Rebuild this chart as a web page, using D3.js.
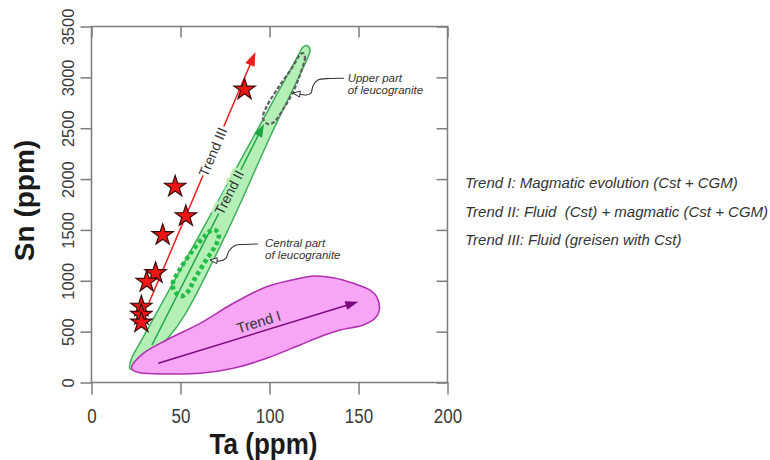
<!DOCTYPE html>
<html>
<head>
<meta charset="utf-8">
<script src="https://cdn.jsdelivr.net/npm/d3@7"></script>
<style>
  body { margin: 0; background: #fff; }
  svg { display: block; font-family: "Liberation Sans", Arial, sans-serif; }
</style>
</head>
<body>
<div id="chart"></div>
<script>
// axis ticks
const xTicks = [0, 50, 100, 150, 200];
const yTicks = [0, 500, 1000, 1500, 2000, 2500, 3000, 3500];

// greisen samples (stars)
const starTa = [86, 47, 53, 40, 36, 31, 28, 28, 28];
const starSn = [2880, 1925, 1635, 1450, 1075, 990, 745, 665, 590];

// outlines, [Ta, Sn]
const trendIIField = [
  [21.6, 133], [22.6, 241], [27.2, 388], [46.1, 988], [82.9, 2157], [108.5, 2973],
  [116.2, 3219], [118.8, 3298], [121.1, 3313], [122.8, 3269], [121.6, 3200],
  [100.3, 2414], [77.2, 1519], [53.0, 683], [43.0, 437], [32.9, 261], [25.6, 143]
];
const trendIField = [
  [22.6, 155], [29.1, 287], [42.2, 418], [61.0, 582], [79.7, 779], [98.4, 942],
  [117.1, 1024], [124.6, 1047], [135.8, 1030], [147.1, 975], [156.5, 909], [160.2, 844],
  [161.7, 713], [159.3, 631], [152.7, 565], [139.6, 516], [128.4, 450], [117.1, 369],
  [98.4, 238], [79.7, 140], [61.0, 90], [42.2, 84], [27.2, 96], [23.1, 123]
];
const centralPart = [
  [46.9, 890], [45.6, 968], [49.4, 1106], [56.2, 1283], [63.6, 1440], [68.3, 1502],
  [71.4, 1470], [70.4, 1371], [64.4, 1204], [58.2, 1027], [54.0, 890], [50.3, 848]
];
const upperPart = [
  [118.8, 3239], [119.9, 3200], [117.1, 3023], [113.2, 2856], [108.1, 2699], [102.5, 2561],
  [99.1, 2541], [96.3, 2600], [98.0, 2699], [104.8, 2896], [112.6, 3092], [117.1, 3220]
];

// trend arrows, [start, tip]
const trendIArrow = [[37.5, 189], [149.9, 794]];
const trendIIArrow = [[34.0, 369], [96.9, 2541]];
const trendIIIArrow = [[31.5, 752], [92.1, 3249]];

// label names and their place along each arrow
const trendNames = ["Trend I", "Trend II", "Trend III"];
const trendLabelT = [0.517, 0.69, 0.606];

// annotation leaders (last point = arrow tip)
const upperLeader = [[141.9, 2991], [134.0, 2989], [127.2, 2974], [124.4, 2915], [123.3, 2846], [120.5, 2827], [113.2, 2846]];
const centralLeader = [[93.5, 1362], [86.2, 1357], [80.6, 1347], [77.2, 1293], [75.6, 1224], [72.2, 1195], [66.6, 1204]];
const upperNote = ["Upper part", "of leucogranite"];
const upperNoteAt = [143.9, 2954];
const centralNote = ["Central part", "of leucogranite"];
const centralNoteAt = [97.5, 1332];

const legendLines = [
  "Trend I: Magmatic evolution (Cst + CGM)",
  "Trend II: Fluid  (Cst) + magmatic (Cst + CGM)",
  "Trend III: Fluid (greisen with Cst)"
];

const width = 770, height = 460;
const frameColor = "#7c7c7c";

const svg = d3.select("#chart").append("svg")
  .attr("width", width)
  .attr("height", height);

const x = d3.scaleLinear().domain([0, 200]).range([91.5, 447.5]);
const y = d3.scaleLinear().domain([0, 3500]).range([382.5, 26.5]);

const px = d => [x(d[0]), y(d[1])];

const blob = d3.line()
  .x(d => x(d[0])).y(d => y(d[1]))
  .curve(d3.curveCatmullRomClosed.alpha(0.5));

const wavy = d3.line()
  .x(d => x(d[0])).y(d => y(d[1]))
  .curve(d3.curveCatmullRom.alpha(0.5));

function arrowHead(g, a, b, len, wid, fill, stroke) {
  const ang = Math.atan2(b[1] - a[1], b[0] - a[0]);
  const bx = b[0] - len * Math.cos(ang), by = b[1] - len * Math.sin(ang);
  const nx = -Math.sin(ang) * wid / 2, ny = Math.cos(ang) * wid / 2;
  g.append("path")
    .attr("d", `M${b[0]},${b[1]}L${bx + nx},${by + ny}L${bx - nx},${by - ny}Z`)
    .attr("fill", fill)
    .attr("stroke", stroke || "none")
    .attr("stroke-width", 1)
    .attr("stroke-linejoin", "round");
  return [bx, by];
}

function trendArrow(g, pts, color, len, wid) {
  const a = px(pts[0]), b = px(pts[1]);
  const ang = Math.atan2(b[1] - a[1], b[0] - a[0]);
  g.append("line")
    .attr("x1", a[0]).attr("y1", a[1])
    .attr("x2", b[0] - (len - 1) * Math.cos(ang))
    .attr("y2", b[1] - (len - 1) * Math.sin(ang))
    .attr("stroke", color)
    .attr("stroke-width", 1.5);
  arrowHead(g, a, b, len, wid, color);
}

function trendLabel(g, pts, t, text, offset, halo, size) {
  const a = px(pts[0]), b = px(pts[1]);
  const ang = Math.atan2(b[1] - a[1], b[0] - a[0]);
  const cx = a[0] + (b[0] - a[0]) * t + Math.sin(ang) * offset;
  const cy = a[1] + (b[1] - a[1]) * t - Math.cos(ang) * offset;
  const txt = g.append("text")
    .attr("transform", `translate(${cx},${cy}) rotate(${ang * 180 / Math.PI})`)
    .attr("text-anchor", "middle")
    .attr("dy", "0.35em")
    .style("font-size", size + "px")
    .attr("fill", "#333")
    .text(text);
  if (halo) {
    txt.attr("stroke", halo).attr("stroke-width", 6)
      .attr("paint-order", "stroke").attr("stroke-linejoin", "round");
  }
}

const plot = svg.append("g");

// Trend II field (green)
plot.append("path")
  .attr("d", blob(trendIIField))
  .attr("fill", "#b4f0b6")
  .attr("stroke", "#3fae5c")
  .attr("stroke-width", 1.5);

trendArrow(plot, trendIIArrow, "#1fa447", 13, 9);

// central part of leucogranite (dotted)
plot.append("path")
  .attr("d", blob(centralPart))
  .attr("fill", "none")
  .attr("stroke", "#22bd45")
  .attr("stroke-width", 4.5)
  .attr("stroke-dasharray", "4 3");

// upper part of leucogranite (dashed)
plot.append("path")
  .attr("d", blob(upperPart))
  .attr("fill", "none")
  .attr("stroke", "#5f5f5f")
  .attr("stroke-width", 2.2)
  .attr("stroke-dasharray", "4 2");

// Trend III (red)
trendArrow(plot, trendIIIArrow, "#f21c1c", 14, 10);

plot.selectAll(".star")
  .data(starTa.map((d, i) => [d, starSn[i]]))
  .enter().append("path")
  .attr("class", "star")
  .attr("transform", d => `translate(${x(d[0])},${y(d[1])})`)
  .attr("d", d3.symbol(d3.symbolStar, 140))
  .attr("fill", "#ef1515")
  .attr("stroke", "#3a0a0a")
  .attr("stroke-width", 1.2);

// Trend I field (magenta)
plot.append("path")
  .attr("d", blob(trendIField))
  .attr("fill", "#f6a6f4")
  .attr("stroke", "#b02fb0")
  .attr("stroke-width", 1.5);

trendArrow(plot, trendIArrow, "#7d0a82", 13, 9);

// trend labels
trendLabel(plot, trendIArrow, trendLabelT[0], trendNames[0], 10, null, 14.5);
trendLabel(plot, trendIIArrow, trendLabelT[1], trendNames[1], 0, "#b4f0b6", 14);
trendLabel(plot, trendIIIArrow, trendLabelT[2], trendNames[2], 0, "#fff", 14);

// annotation leaders
[upperLeader, centralLeader].forEach(pts => {
  plot.append("path")
    .attr("d", wavy(pts))
    .attr("fill", "none")
    .attr("stroke", "#333")
    .attr("stroke-width", 1.1);
  const n = pts.length;
  arrowHead(plot, px(pts[n - 2]), px(pts[n - 1]), 7, 6, "#fff", "#333");
});

[[upperNote, upperNoteAt], [centralNote, centralNoteAt]].forEach(([lines, at]) => {
  const t = plot.append("text")
    .attr("x", x(at[0]))
    .attr("y", y(at[1]))
    .style("font-size", "11.5px")
    .style("font-style", "italic")
    .attr("fill", "#333");
  lines.forEach((l, i) => {
    t.append("tspan").attr("x", x(at[0])).attr("dy", i ? 11.5 : 0).text(l);
  });
});

// axes
const axes = svg.append("g");

const bottom = axes.append("g")
  .attr("transform", `translate(0,${y(0)})`)
  .call(d3.axisBottom(x).tickValues(xTicks).tickSize(12).tickSizeOuter(0).tickFormat(d3.format("d")));
bottom.selectAll("text")
  .attr("y", null).attr("dy", null)
  .attr("transform", "translate(0,40) scale(1,1.15)")
  .style("font-size", "17px");

const left = axes.append("g")
  .attr("transform", `translate(${x(0)},0)`)
  .call(d3.axisLeft(y).tickValues(yTicks).tickSize(11).tickSizeOuter(0).tickFormat(d3.format("d")));
left.selectAll("text")
  .attr("x", null).attr("dy", null)
  .attr("text-anchor", "middle")
  .attr("transform", "translate(-18,0) rotate(-90)")
  .style("font-size", "16.5px");

axes.append("g")
  .attr("transform", `translate(0,${y(3500)})`)
  .call(d3.axisTop(x).tickValues(xTicks).tickSize(-11).tickSizeOuter(0).tickFormat(""));

axes.append("g")
  .attr("transform", `translate(${x(200)},0)`)
  .call(d3.axisRight(y).tickValues(yTicks).tickSize(-11).tickSizeOuter(0).tickFormat(""));

axes.selectAll(".domain").remove();
axes.selectAll(".tick line").attr("stroke", frameColor).attr("stroke-width", 1.5);
axes.selectAll(".tick text").attr("fill", "#3a3a3a").style("font-family", "\"Liberation Sans\", Arial, sans-serif");

axes.append("rect")
  .attr("x", x(0)).attr("y", y(3500))
  .attr("width", x(200) - x(0))
  .attr("height", y(0) - y(3500))
  .attr("fill", "none")
  .attr("stroke", frameColor)
  .attr("stroke-width", 1.5);

// axis titles
svg.append("text")
  .attr("transform", `translate(${(x(0) + x(200)) / 2 - 6},453.5) scale(1,1.12)`)
  .attr("text-anchor", "middle")
  .style("font-size", "26px")
  .style("font-weight", "bold")
  .attr("fill", "#1a1a1a")
  .text("Ta (ppm)");

svg.append("text")
  .attr("transform", `translate(34,${(y(0) + y(3500)) / 2 - 4}) rotate(-90)`)
  .attr("text-anchor", "middle")
  .style("font-size", "28px")
  .style("font-weight", "bold")
  .attr("fill", "#1a1a1a")
  .text("Sn (ppm)");

// legend
svg.selectAll(".legend")
  .data(legendLines)
  .enter().append("text")
  .attr("class", "legend")
  .attr("x", 465)
  .attr("y", (d, i) => 188 + i * 28.5)
  .style("font-size", "15px")
  .style("font-style", "italic")
  .style("white-space", "pre")
  .attr("fill", "#333")
  .text(d => d);
</script>
</body>
</html>
